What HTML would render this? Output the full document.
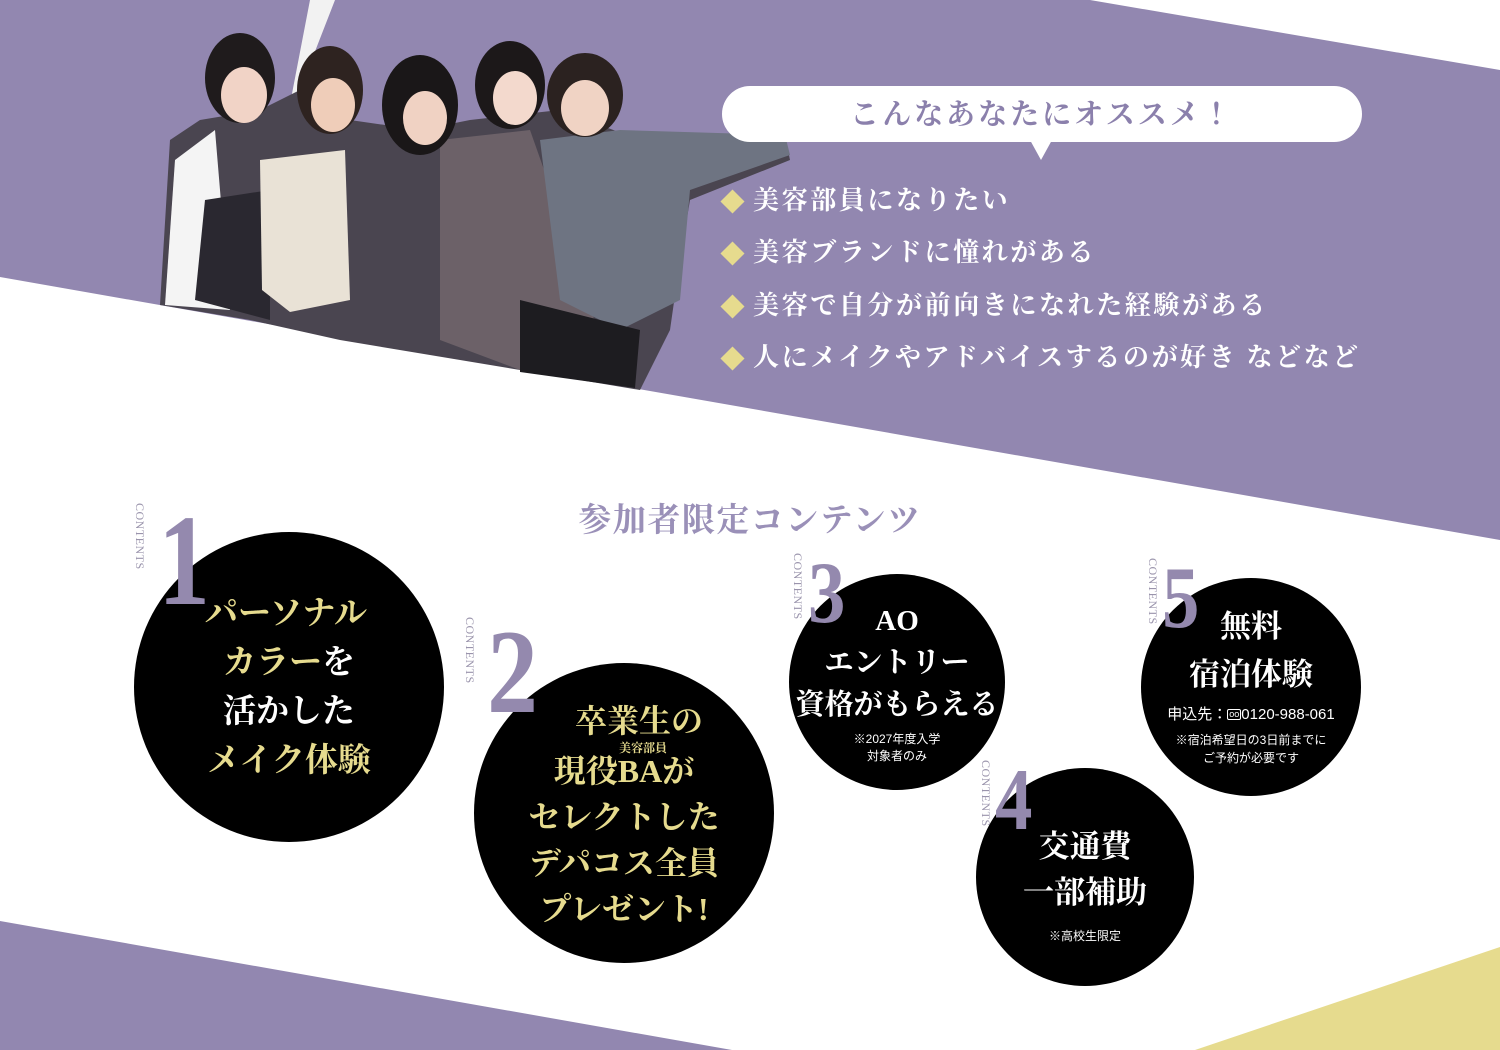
<!DOCTYPE html>
<html><head><meta charset="utf-8">
<style>
*{margin:0;padding:0;box-sizing:border-box}
body{width:1500px;height:1050px;position:relative;overflow:hidden;background:#fff;font-family:"Liberation Serif","Noto Serif CJK JP","Noto Serif CJK SC",serif}
.a{position:absolute}
.c{position:absolute;border-radius:50%;background:#000}
.t{position:absolute;text-align:center;white-space:nowrap;font-weight:bold}
.g{color:#e6db8e}.w{color:#fff}
.num{position:absolute;color:#9489ae;font-family:"Liberation Serif",serif;line-height:1;font-weight:bold;transform-origin:left top}
.ct{position:absolute;color:#9a94ac;font-family:"Liberation Serif",serif;font-size:12px;writing-mode:vertical-rl;letter-spacing:0.5px}
.li{position:absolute;left:720px;color:#fff;font-size:26px;letter-spacing:2.6px;white-space:nowrap;font-weight:bold}
.li::before{content:"";display:inline-block;width:17px;height:17px;background:#e6db8e;transform:rotate(45deg);margin:0 12px 4px 4px;vertical-align:middle}
.s{font-family:"Liberation Sans","Noto Sans CJK JP",sans-serif;font-weight:normal}
</style></head><body>
<svg class="a" style="left:0;top:0" width="1500" height="1050">
<polygon points="0,0 1090,0 1500,70 1500,540 0,277" fill="#9287b0"/>
<polygon points="0,921 732,1050 0,1050" fill="#9287b0"/>
<polygon points="1195,1050 1500,947 1500,1050" fill="#e6db8e"/>
<polygon points="310,0 335,0 300,90 285,130" fill="#f2f2f2"/>
<polygon points="160,305 170,140 200,120 260,110 300,90 350,120 420,130 470,120 560,110 640,140 785,135 790,160 690,200 680,260 670,330 640,390 520,370 340,340 250,320" fill="#4a4550"/>
<path d="M165,305 L175,160 L215,130 L230,310 Z" fill="#f4f4f4"/>
<path d="M195,300 L205,200 L270,190 L270,320 Z" fill="#2a2830"/>
<path d="M260,160 L345,150 L350,300 L290,312 L262,290 Z" fill="#e9e2d6"/>
<path d="M440,140 L530,130 L590,300 L600,350 L520,370 L440,340 Z" fill="#6c6168"/>
<path d="M540,140 L620,130 L785,135 L790,155 L690,190 L680,300 L620,330 L560,300 Z" fill="#6e7482"/>
<ellipse cx="240" cy="78" rx="35" ry="45" fill="#1f1b1c"/><ellipse cx="244" cy="95" rx="23" ry="28" fill="#f1d3c6"/>
<ellipse cx="330" cy="90" rx="33" ry="44" fill="#2e2320"/><ellipse cx="333" cy="105" rx="22" ry="27" fill="#efcdb9"/>
<ellipse cx="420" cy="105" rx="38" ry="50" fill="#1a1718"/><ellipse cx="425" cy="118" rx="22" ry="27" fill="#f0d2c3"/>
<ellipse cx="510" cy="85" rx="35" ry="44" fill="#1c1819"/><ellipse cx="515" cy="98" rx="22" ry="27" fill="#f3d9cd"/>
<ellipse cx="585" cy="95" rx="38" ry="42" fill="#2b2220"/><ellipse cx="585" cy="108" rx="24" ry="28" fill="#f0d3c4"/>
<polygon points="520,300 640,330 635,388 520,372" fill="#1d1c20"/>
<rect x="722" y="86" width="640" height="56" rx="28" fill="#fff"/>
<polygon points="1030,140 1052,140 1041,160" fill="#fff"/>
</svg>
<div class="a" style="left:722px;top:92px;width:640px;text-align:center;color:#8b80ac;font-size:29px;letter-spacing:3px;font-weight:bold">こんなあなたにオススメ！</div>
<div class="li" style="top:180px">美容部員になりたい</div>
<div class="li" style="top:232px">美容ブランドに憧れがある</div>
<div class="li" style="top:285px">美容で自分が前向きになれた経験がある</div>
<div class="li" style="top:337px">人にメイクやアドバイスするのが好き などなど</div>

<div class="a" style="left:0;top:494px;width:1500px;text-align:center;color:#9a90b8;font-size:33px;font-weight:bold;letter-spacing:1.5px">参加者限定コンテンツ</div>

<div class="c" style="left:134px;top:532px;width:310px;height:310px"></div>
<div class="ct" style="left:132px;top:503px">CONTENTS</div>
<div class="num" style="left:158px;top:496px;font-size:130px;transform:scaleX(0.8)">1</div>
<div class="t g" style="left:205px;top:590px;width:170px;font-size:33px;line-height:49px;text-align:left">パーソナル</div>
<div class="t" style="left:134px;top:639px;width:310px;font-size:33px;line-height:49px"><span class="g">カラー</span><span class="w">を</span><br><span class="w">活かした</span><br><span class="g">メイク体験</span></div>

<div class="c" style="left:474px;top:663px;width:300px;height:300px"></div>
<div class="ct" style="left:462px;top:617px">CONTENTS</div>
<div class="num" style="left:487px;top:612px;font-size:120px;transform:scaleX(0.85)">2</div>
<div class="t g" style="left:474px;top:696px;width:300px;font-size:32px;padding-left:30px">卒業生の</div>
<div class="t g" style="left:474px;top:739px;width:300px;font-size:12px;padding-left:38px">美容部員</div>
<div class="t g" style="left:474px;top:748px;width:300px;font-size:32px;line-height:46px">現役BAが<br>セレクトした<br>デパコス全員<br>プレゼント!</div>

<div class="c" style="left:789px;top:574px;width:216px;height:216px"></div>
<div class="ct" style="left:790px;top:553px">CONTENTS</div>
<div class="num" style="left:808px;top:550px;font-size:88px;transform:scaleX(0.85)">3</div>
<div class="t w" style="left:789px;top:600px;width:216px;font-size:29px;line-height:42px">AO<br>エントリー<br>資格がもらえる</div>
<div class="t w s" style="left:789px;top:731px;width:216px;font-size:12px;line-height:17px">※2027年度入学<br>対象者のみ</div>

<div class="c" style="left:976px;top:768px;width:218px;height:218px"></div>
<div class="ct" style="left:978px;top:760px">CONTENTS</div>
<div class="num" style="left:995px;top:757px;font-size:88px;transform:scaleX(0.85)">4</div>
<div class="t w" style="left:976px;top:824px;width:218px;font-size:31px;line-height:46px">交通費<br>一部補助</div>
<div class="t w s" style="left:976px;top:927px;width:218px;font-size:12px">※高校生限定</div>

<div class="c" style="left:1141px;top:578px;width:220px;height:218px"></div>
<div class="ct" style="left:1145px;top:558px">CONTENTS</div>
<div class="num" style="left:1162px;top:555px;font-size:88px;transform:scaleX(0.85)">5</div>
<div class="t w" style="left:1141px;top:603px;width:220px;font-size:31px;line-height:48px"><span style="padding-left:0">無料</span><br>宿泊体験</div>
<div class="t w s" style="left:1141px;top:703px;width:220px;font-size:15px">申込先：<span style="display:inline-block;border:1.5px solid #fff;border-radius:2px;font-size:9px;line-height:9px;padding:0 1px;vertical-align:2px">oo</span>0120-988-061</div>
<div class="t w s" style="left:1141px;top:731px;width:220px;font-size:12px;line-height:18px">※宿泊希望日の3日前までに<br>ご予約が必要です</div>
</body></html>
